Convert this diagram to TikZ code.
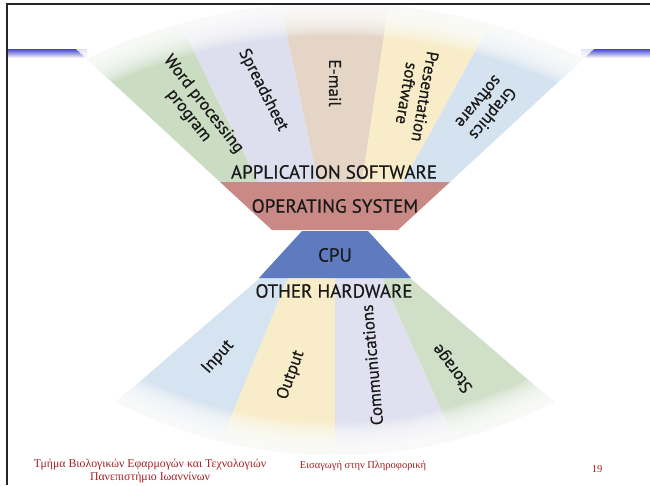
\documentclass[tikz,border=0pt]{standalone}
\usepackage{fontspec}
\setmainfont{Liberation Serif}
\newfontfamily\labelfont[FakeBold=0.5]{PT Sans}
\usepackage{tikz}
\usetikzlibrary{positioning}
\definecolor{labeltext}{RGB}{25, 25, 25}
\definecolor{headblue}{RGB}{70, 70, 200}
\definecolor{footred}{RGB}{165, 30, 35}
\definecolor{appgreen}{RGB}{202, 220, 194}
\definecolor{applav}{RGB}{221, 222, 238}
\definecolor{apptan}{RGB}{228, 213, 198}
\definecolor{appyel}{RGB}{249, 237, 201}
\definecolor{appblue}{RGB}{213, 227, 240}
\definecolor{osred}{RGB}{201, 137, 133}
\definecolor{cpublue}{RGB}{93, 123, 190}
\definecolor{hwblue}{RGB}{214, 227, 240}
\definecolor{hwyel}{RGB}{249, 237, 201}
\definecolor{hwlav}{RGB}{224, 224, 240}
\definecolor{hwgreen}{RGB}{208, 224, 200}

\begin{document}
\begin{tikzpicture}[
    x=1pt, y=-1pt,
    fanlabel/.style={font=\labelfont\fontsize{17}{18.5}\selectfont, text=labeltext, align=center, inner sep=0pt},
    layerlabel/.style={font=\labelfont\fontsize{19}{19}\selectfont, text=labeltext, inner sep=0pt},
    footer/.style={font=\fontsize{10.5}{13}\selectfont, text=footred, align=center, inner sep=0pt},
    rim/.style={white, opacity=0.15}
]
    \useasboundingbox (0,0) rectangle (650,485);

    % Header rule
    \shade[top color=headblue, bottom color=white] (7,49) rectangle (87,58);
    \shade[top color=headblue, bottom color=white] (581,49) rectangle (650,58);

    % Application fan
    \begin{scope}
        \clip (335,580) circle[radius=577];
        \fill[appgreen] (220,182) -- (-31,-50) -- (144,-50) -- (258,182) -- cycle;
        \fill[applav] (258,182) -- (144,-50) -- (269,-50) -- (318,182) -- cycle;
        \fill[apptan] (318,182) -- (269,-50) -- (397,-50) -- (362,182) -- cycle;
        \fill[appyel] (362,182) -- (397,-50) -- (531,-50) -- (403,182) -- cycle;
        \fill[appblue] (403,182) -- (531,-50) -- (701,-50) -- (450,182) -- cycle;
    \end{scope}
    \begin{scope}
        \clip (220,182) -- (-31,-50) -- (701,-50) -- (450,182) -- cycle;
        \foreach \w in {4,8,...,64}
            \draw[rim, line width=\w] (335,580) circle[radius=577];
    \end{scope}

    % Hardware fan
    \begin{scope}
        \clip (335,-20) circle[radius=475];
        \fill[hwblue] (260,278) -- (-21,520) -- (189,520) -- (288,278) -- cycle;
        \fill[hwyel] (288,278) -- (189,520) -- (335,520) -- (335,278) -- cycle;
        \fill[hwlav] (335,278) -- (335,520) -- (491,520) -- (382,278) -- cycle;
        \fill[hwgreen] (382,278) -- (491,520) -- (691,520) -- (410,278) -- cycle;
    \end{scope}
    \begin{scope}
        \clip (260,278) -- (-21,520) -- (691,520) -- (410,278) -- cycle;
        \foreach \w in {4,8,...,64}
            \draw[rim, line width=\w] (335,-20) circle[radius=475];
    \end{scope}

    % Core layers
    \fill[osred] (220,182) -- (450,182) -- (398,230) -- (272,230) -- cycle;
    \fill[cpublue] (302,231) -- (368,231) -- (411,278) -- (259,278) -- cycle;

    % Layer labels
    \node[layerlabel] (appsw) at (334,172) {APPLICATION SOFTWARE};
    \node[layerlabel] (os) at (335,206) {OPERATING SYSTEM};
    \node[layerlabel] (cpu) at (335,255) {CPU};
    \node[layerlabel] (otherhw) at (334,291) {OTHER HARDWARE};

    % Application labels
    \node[fanlabel, rotate=-52] (wordproc) at (196,110) {Word processing\\program};
    \node[fanlabel, rotate=-63] (spreadsheet) at (263,90) {Spreadsheet};
    \node[fanlabel, rotate=-90] (email) at (335,83) {E-mail};
    \node[fanlabel, rotate=-100] (presentation) at (416,95) {Presentation\\software};
    \node[fanlabel, rotate=-130] (graphics) at (486,108) {Graphics\\software};

    % Hardware labels
    \node[fanlabel, rotate=48] (input) at (218,357) {Input};
    \node[fanlabel, rotate=70] (output) at (291,375) {Output};
    \node[fanlabel, rotate=95] (comms) at (372,365) {Communications};
    \node[fanlabel, rotate=127] (storage) at (453,368) {Storage};

    % Footer
    \node[footer, font=\fontsize{11.8}{13}\selectfont] (dept) at (150,471) {Τμήμα Βιολογικών Εφαρμογών και Τεχνολογιών\\Πανεπιστήμιο Ιωαννίνων};
    \node[footer] (course) at (363,466) {Εισαγωγή στην Πληροφορική};
    \node[footer] (pagenum) at (597,469) {19};

    % Slide frame
    \draw[line width=1.8pt, black!85] (7,485) -- (7,4) -- (650,4);
\end{tikzpicture}
\end{document}
